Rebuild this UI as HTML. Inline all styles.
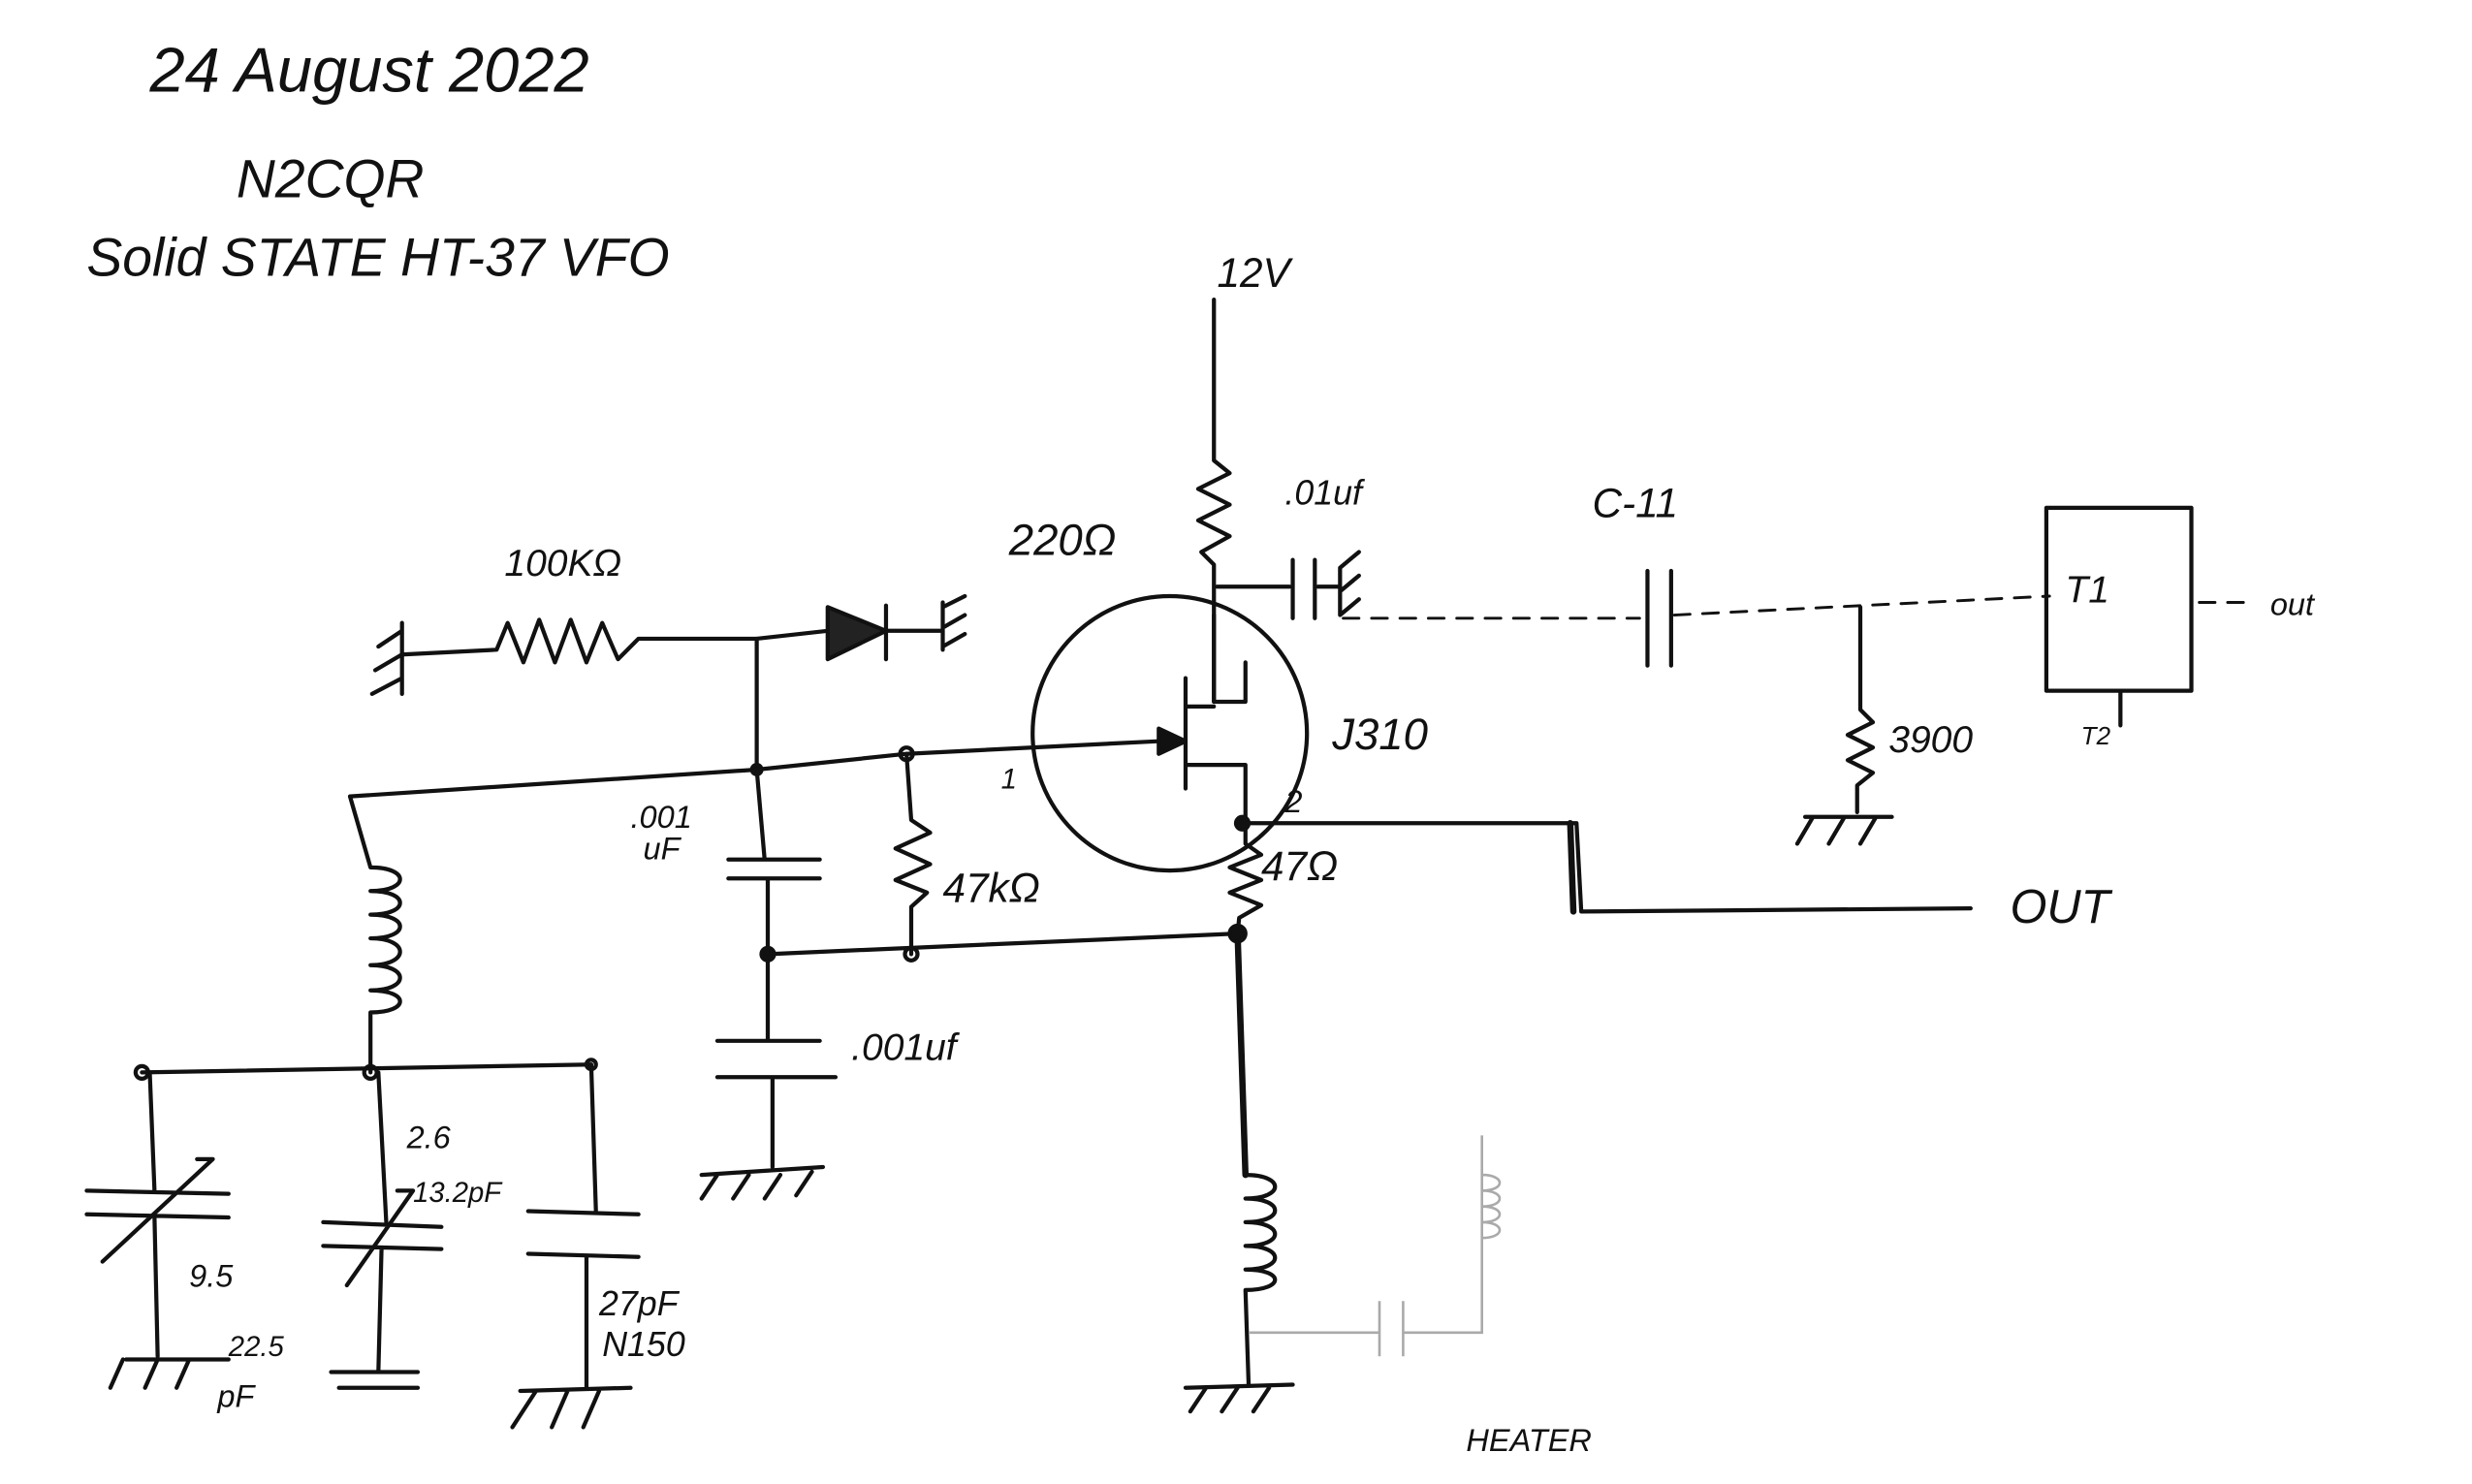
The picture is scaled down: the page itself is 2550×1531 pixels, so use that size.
<!DOCTYPE html>
<html><head><meta charset="utf-8"><style>
html,body{margin:0;padding:0;background:#fff;}
svg{display:block;}
text{font-family:"Liberation Sans",sans-serif;font-style:italic;fill:#111;}
</style></head><body>
<svg width="2550" height="1531" viewBox="0 0 1568 941" preserveAspectRatio="none" xmlns="http://www.w3.org/2000/svg">
<rect width="1568" height="941" fill="#fff"/>
<g stroke="#111" stroke-width="2.6" fill="none" stroke-linecap="round" stroke-linejoin="round">
<path d="M770 190 L770 292 L780 300 L760 310 L780 320 L760 330 L780 340 L762 350 L770 358 L770 445"/>
<path d="M770 445 L790 445 L790 420 M770 390 L770 445"/>
<path d="M772 372 L818 372 M820 355 L820 392 M834 355 L834 392 M836 372 L850 372 M850 360 L850 390 M850 360 L862 350 M850 375 L862 365 M850 390 L862 380"/>
<circle cx="742" cy="465" r="87"/>
<path d="M752 430 L752 500 M752 448 L770 448 M752 485 L790 485 L790 520"/>
<path d="M735 462 L752 470 L735 478 Z" fill="#111"/>
<path d="M222 505 L480 488 L575 478 L735 470"/>
<path d="M255 415 L315 412 L322 395 L332 420 L342 393 L352 420 L362 393 L372 420 L382 395 L392 418 L405 405 L480 405 L525 400"/>
<path d="M255 395 L255 440 M255 400 L240 410 M255 415 L238 425 M255 430 L236 440"/>
<path d="M525 385 L562 400 L525 418 Z" fill="#222"/>
<path d="M562 384 L562 418 M562 400 L598 400 M598 382 L598 412 M598 385 L612 378 M598 398 L612 390 M598 410 L612 402"/>
<path d="M480 405 L480 488 L485 545 M462 545 L520 545 M462 557 L520 557 M487 557 L487 660 M455 660 L520 660 M455 683 L530 683 M490 683 L490 740 M445 745 L522 740 M455 745 L445 760 M475 745 L465 760 M495 745 L485 760 M515 743 L505 758"/>
<path d="M575 478 L578 520 L590 528 L568 538 L590 548 L568 558 L588 566 L578 575 L578 605"/>
<path d="M487 605 L785 592"/>
<path d="M790 522 L790 535 L800 542 L780 550 L800 558 L780 566 L800 574 L786 582 L785 592" />
<path d="M785 592 L790 745" stroke-width="4"/>
<path d="M790 745 C815 745 815 760 790 760 C815 760 815 775 790 775 C815 775 815 790 790 790 C815 790 815 805 790 805 C815 805 815 818 790 818 L792 878"/>
<path d="M752 880 L820 878 M765 880 L755 895 M785 880 L775 895 M805 880 L795 895"/>
<path d="M790 522 L1000 522 L1003 578 L1250 576"/>
<path d="M996 522 L998 578" stroke-width="4"/>
<path d="M222 505 L235 550 C260 550 260 565 235 565 C260 565 260 580 235 580 C260 580 260 595 235 595 C260 595 260 612 235 612 C260 612 260 628 235 628 C260 628 260 642 235 642 L235 680"/>
<path d="M90 680 L375 675"/>
<path d="M95 680 L98 755 M55 755 L145 757 M55 770 L145 772 M98 772 L100 860 M65 800 L135 735 L125 735 M80 862 L145 862 M78 862 L70 880 M100 862 L92 880 M120 862 L112 880"/>
<path d="M240 680 L245 775 M205 775 L280 778 M205 790 L280 792 M242 792 L240 870 M210 870 L265 870 M215 880 L265 880 M220 815 L262 755 L252 755"/>
<path d="M375 675 L378 768 M335 768 L405 770 M335 795 L405 797 M372 797 L372 880 M330 882 L400 880 M340 882 L325 905 M360 882 L350 905 M380 882 L370 905"/>
<path d="M852 392 L1040 392 M1062 390 L1300 378 M1395 382 L1430 382" stroke-dasharray="10 8" stroke-width="1.8"/>
<path d="M1045 362 L1045 422 M1060 362 L1060 422"/>
<rect x="1298" y="322" width="92" height="116"/>
<path d="M1345 438 L1345 460 M1180 385 L1180 450 L1188 458 L1172 466 L1188 474 L1172 482 L1188 490 L1178 498 L1178 515 M1145 518 L1200 518 M1150 518 L1140 535 M1170 518 L1160 535 M1190 518 L1180 535"/>
<circle cx="480" cy="488" r="3" fill="#111"/><circle cx="575" cy="478" r="4"/><circle cx="487" cy="605" r="4" fill="#111"/><circle cx="578" cy="605" r="4"/><circle cx="785" cy="592" r="5" fill="#111"/><circle cx="90" cy="680" r="4"/><circle cx="235" cy="680" r="4"/><circle cx="375" cy="675" r="3"/><circle cx="788" cy="522" r="4" fill="#111"/>
</g>
<g stroke="#aaa" stroke-width="1.6" fill="none">
<path d="M792 845 L875 845 M875 825 L875 860 M890 825 L890 860 M890 845 L940 845 L940 720 M940 745 C955 745 955 755 940 755 C955 755 955 765 940 765 C955 765 955 775 940 775 C955 775 955 785 940 785"/>
</g>
<text x="95" y="58" font-size="40">24 August 2022</text>
<text x="150" y="125" font-size="34">N2CQR</text>
<text x="55" y="175" font-size="34">Solid STATE  HT-37 VFO</text>
<text x="772" y="182" font-size="26">12V</text>
<text x="640" y="352" font-size="28">220Ω</text>
<text x="815" y="320" font-size="22">.01uf</text>
<text x="1010" y="328" font-size="26">C-11</text>
<text x="1310" y="382" font-size="24">T1</text>
<text x="1440" y="390" font-size="20" fill="#777">out</text>
<text x="1320" y="472" font-size="16" fill="#555">T2</text>
<text x="320" y="365" font-size="24">100KΩ</text>
<text x="845" y="475" font-size="28">J310</text>
<text x="635" y="500" font-size="18">1</text>
<text x="815" y="515" font-size="20">2</text>
<text x="1198" y="477" font-size="24">3900</text>
<text x="400" y="525" font-size="20">.001</text>
<text x="408" y="545" font-size="20">uF</text>
<text x="598" y="572" font-size="26">47kΩ</text>
<text x="800" y="558" font-size="26">47Ω</text>
<text x="1275" y="585" font-size="30">OUT</text>
<text x="540" y="672" font-size="24">.001uf</text>
<text x="258" y="728" font-size="20">2.6</text>
<text x="262" y="762" font-size="18">13.2pF</text>
<text x="120" y="816" font-size="20">9.5</text>
<text x="145" y="860" font-size="18">22.5</text>
<text x="138" y="892" font-size="20">pF</text>
<text x="380" y="834" font-size="22">27pF</text>
<text x="382" y="860" font-size="22">N150</text>
<text x="930" y="920" font-size="20" fill="#777">HEATER</text>
</svg>
</body></html>
